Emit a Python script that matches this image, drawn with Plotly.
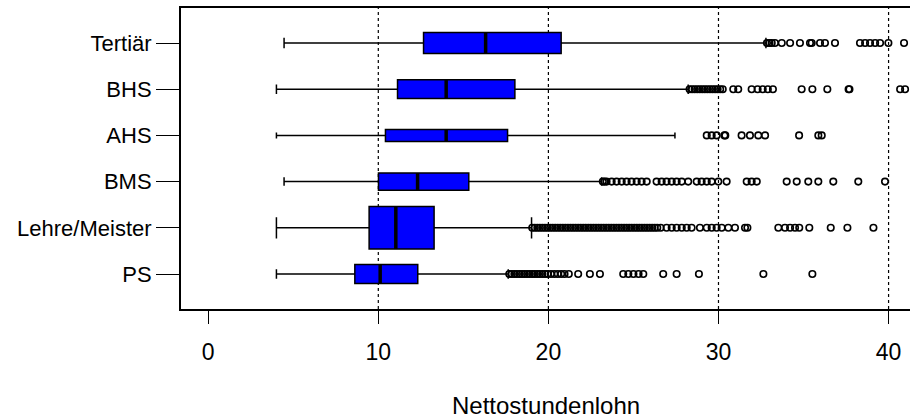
import plotly.graph_objects as go

# ---------------- data ----------------
categories = ["Tertiär", "BHS", "AHS", "BMS", "Lehre/Meister", "PS"]

lower_whisker = [4.46, 4.01, 4.01, 4.46, 4.01, 4.01]
q1_values     = [12.66, 11.13, 10.42, 10.01, 9.46, 8.62]
median_values = [16.31, 13.99, 13.99, 12.31, 11.03, 10.11]
q3_values     = [20.75, 18.03, 17.60, 15.32, 13.28, 12.32]
upper_whisker = [32.79, 28.22, 27.44, 23.13, 19.01, 17.64]

outliers_tertiaer = [32.85, 33.0, 33.13, 33.32, 33.72, 34.21, 34.79, 35.38, 35.48,
                     35.97, 36.26, 36.85, 38.32, 38.62, 38.91, 39.21, 39.5, 39.99, 40.91]
outliers_bhs = [28.3, 28.45, 28.6, 28.75, 28.9, 29.05, 29.2, 29.35, 29.5, 29.65, 29.8,
                29.95, 30.1, 30.25, 30.87, 31.16, 31.95, 32.3, 32.6, 32.9, 33.2,
                34.89, 35.52, 36.4, 37.65, 37.7, 40.68, 40.97]
outliers_ahs = [29.31, 29.6, 29.89, 30.35, 30.4, 31.36, 31.85, 32.34, 32.74,
                34.74, 35.87, 36.07]
outliers_bms = [23.2, 23.3, 23.42, 23.72, 24.01, 24.31, 24.6, 24.89, 25.19, 25.48, 25.78,
                26.36, 26.66, 26.95, 27.25, 27.54, 27.84, 28.22, 28.72, 29.01, 29.31,
                29.6, 29.99, 30.48, 31.66, 31.95, 32.25, 34.01, 34.6, 35.28, 35.87,
                36.75, 38.22, 39.79]
outliers_lehre = [19.05, 19.2, 19.35, 19.5, 19.65, 19.8, 19.95, 20.1, 20.25, 20.4, 20.55,
                  20.7, 20.85, 21.0, 21.15, 21.3, 21.45, 21.6, 21.75, 21.9, 22.05, 22.2,
                  22.35, 22.5, 22.65, 22.8, 22.95, 23.1, 23.25, 23.4, 23.55, 23.7, 23.85,
                  24.0, 24.15, 24.3, 24.45, 24.6, 24.75, 24.9, 25.05, 25.2, 25.35, 25.5,
                  25.65, 25.8, 25.95, 26.1, 26.25, 26.4, 26.6, 26.95, 27.25, 27.54,
                  27.84, 28.13, 28.42, 28.91, 29.31, 29.6, 29.89, 30.19, 30.58, 30.97,
                  31.56, 31.7, 33.52, 33.91, 34.21, 34.5, 34.75, 35.34, 36.6, 37.58, 39.11]
outliers_ps = [17.7, 17.85, 18.0, 18.15, 18.3, 18.45, 18.6, 18.75, 18.9, 19.05, 19.2,
               19.35, 19.5, 19.65, 19.8, 19.95, 20.15, 20.35, 20.55, 20.75, 20.95, 21.2,
               21.75, 22.44, 23.03, 24.4, 24.7, 25.0, 25.3, 25.58, 26.75, 27.54, 28.85,
               32.64, 35.52]
outliers = [outliers_tertiaer, outliers_bhs, outliers_ahs,
            outliers_bms, outliers_lehre, outliers_ps]

x_tick_values = [0, 10, 20, 30, 40]
grid_values = [10, 20, 30, 40]
x_title = "Nettostundenlohn"

# ---------------- style ----------------
BOX_WIDTHS = [0.455, 0.405, 0.26, 0.37, 0.92, 0.41]  # varwidth-like box heights
BOX_FILL = "#0000FF"
FONT = "Liberation Sans, Arial, Helvetica, sans-serif"

n = len(categories)
positions = [n - i for i in range(n)]  # top category highest

fig = go.Figure()

for i, cat in enumerate(categories):
    pos = positions[i]
    fig.add_trace(go.Box(
        orientation="h",
        y=[pos],
        q1=[q1_values[i]], median=[median_values[i]], q3=[q3_values[i]],
        lowerfence=[lower_whisker[i]], upperfence=[upper_whisker[i]],
        width=BOX_WIDTHS[i],
        whiskerwidth=0.5,
        fillcolor=BOX_FILL,
        line=dict(color="black", width=1.5),
        boxpoints=False,
        hoverinfo="skip",
        showlegend=False,
    ))
    # thick median line
    half = BOX_WIDTHS[i] / 2
    fig.add_trace(go.Scatter(
        x=[median_values[i], median_values[i]],
        y=[pos - half, pos + half],
        mode="lines",
        line=dict(color="black", width=3.5),
        hoverinfo="skip", showlegend=False,
    ))
    # outliers
    fig.add_trace(go.Scatter(
        x=outliers[i],
        y=[pos] * len(outliers[i]),
        mode="markers",
        marker=dict(symbol="circle-open", size=6.5, color="black",
                    line=dict(width=1.6, color="black")),
        hoverinfo="skip", showlegend=False,
        cliponaxis=True,
    ))

for g in grid_values:
    fig.add_shape(type="line", x0=g, x1=g, y0=0, y1=1, xref="x", yref="paper",
                  line=dict(color="black", width=1.2, dash="dot"), layer="below")

fig.add_annotation(text=x_title, xref="paper", yref="paper", x=0.5, y=-0.322,
                   xanchor="center", yanchor="middle", showarrow=False,
                   font=dict(family=FONT, size=24, color="black"))

fig.update_layout(
    width=910, height=419,
    margin=dict(l=181, r=0, t=8, b=110),
    paper_bgcolor="white", plot_bgcolor="white",
    font=dict(family=FONT, color="black"),
    showlegend=False,
    xaxis=dict(
        range=[-1.6, 41.26],
        tickvals=x_tick_values,
        ticktext=[str(v) for v in x_tick_values],
        ticks="outside", ticklen=13, tickwidth=1, tickcolor="black",
        showline=True, linecolor="black", linewidth=2, mirror=True,
        showgrid=False, zeroline=False,
        tickfont=dict(family=FONT, size=23, color="black"),
        ticklabelstandoff=8,
    ),
    yaxis=dict(
        range=[0.2425, 6.7575],
        tickvals=positions,
        ticktext=categories,
        ticks="outside", ticklen=23, tickwidth=1, tickcolor="black",
        showline=True, linecolor="black", linewidth=2, mirror=False,
        showgrid=False, zeroline=False,
        tickfont=dict(family=FONT, size=22, color="black"),
        ticklabelstandoff=0,
    ),
)

fig.write_html("out.html",
               config={"displayModeBar": False, "staticPlot": True},
               post_script="document.body.style.margin='0px';document.body.style.overflow='hidden';")
